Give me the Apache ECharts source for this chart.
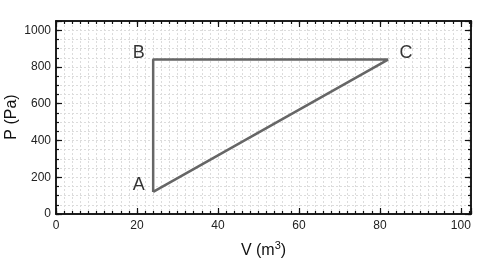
<!DOCTYPE html>
<html><head><meta charset="utf-8">
<script src="https://cdn.jsdelivr.net/npm/echarts@6/dist/echarts.min.js"></script>
<style>html,body{margin:0;padding:0;background:#fff}#c{width:494px;height:260px}</style>
</head><body><div id="c"></div>
<script>
const pointNames = ['A', 'B', 'C'];
const volumes = [24, 24, 82];
const pressures = [120, 840, 840];
const xTicks = [0, 20, 40, 60, 80, 100];
const yTicks = [0, 200, 400, 600, 800, 1000];
const yTitle = 'P (Pa)';

const FONT = 'Liberation Sans, Arial, Helvetica, sans-serif';
const xMin = 0, xMax = 102.5, yMin = 0, yMax = 1050;

const labelPos = ['left', 'left', 'right'];
const labelDist = [8, 8, 11];
const cycle = volumes.map((v, i) => [v, pressures[i]]);
cycle.push([volumes[0], pressures[0]]);
const labelPts = volumes.map((v, i) => ({
  value: [v, pressures[i]],
  label: { show: true, formatter: pointNames[i], position: labelPos[i], distance: labelDist[i], offset: [0, -7],
           fontSize: 18, color: '#000', fontFamily: FONT }
}));

const line = { show: true, onZero: false, lineStyle: { color: '#111', width: 1.5 } };
const grid = { show: true, lineStyle: { color: '#dcdcdc', type: [2, 2], width: 1 } };

function xAx(pos, major, labels) {
  return {
    type: 'value', position: pos, min: xMin, max: xMax, interval: major ? 20 : 2,
    axisLine: line,
    axisTick: { show: true, inside: true, length: major ? 6 : 3, lineStyle: { color: '#111', width: 1.2 } },
    splitLine: major ? { show: false } : grid,
    axisLabel: labels ? { show: true, color: '#222', fontSize: 12, fontFamily: FONT, margin: 6,
      formatter: v => xTicks.includes(v) ? String(v) : '' } : { show: false },
    name: labels ? '{n|V (m}{s|3}{n|)}' : '', nameLocation: 'middle', nameGap: 26,
    nameTextStyle: { rich: { n: { fontSize: 16, color: '#111', fontFamily: FONT },
      s: { fontSize: 11, color: '#111', fontFamily: FONT, verticalAlign: 'top', padding: [0, 0, 10, 0] } } }
  };
}
function yAx(pos, major, labels) {
  return {
    type: 'value', position: pos, min: yMin, max: yMax, interval: major ? 200 : 50,
    axisLine: line,
    axisTick: { show: true, inside: true, length: major ? 6 : 3, lineStyle: { color: '#111', width: 1.2 } },
    splitLine: major ? { show: false } : grid,
    axisLabel: labels ? { show: true, color: '#222', fontSize: 12, fontFamily: FONT, margin: 5,
      formatter: v => yTicks.includes(v) ? String(v) : '' } : { show: false }
  };
}

const chart = echarts.init(document.getElementById('c'), null, { renderer: 'canvas' });
chart.setOption({
  animation: false,
  grid: { left: 56, right: 23, top: 21, bottom: 46, containLabel: false, outerBoundsMode: 'none' },
  xAxis: [xAx('bottom', false, false), xAx('bottom', true, true), xAx('top', false, false), xAx('top', true, false)],
  yAxis: [yAx('left', false, false), yAx('left', true, true), yAx('right', false, false), yAx('right', true, false)],
  graphic: [{
    type: 'text', x: 12, y: 117, rotation: Math.PI / 2,
    style: { text: yTitle, fontSize: 16, fill: '#111', fontFamily: FONT, align: 'center', verticalAlign: 'middle' }
  }],
  series: [{
    type: 'line', xAxisIndex: 0, yAxisIndex: 0, data: cycle, symbol: 'none',
    lineStyle: { color: '#666', width: 2.5 }, z: 5
  }, {
    type: 'scatter', xAxisIndex: 0, yAxisIndex: 0, data: labelPts, symbolSize: 1,
    itemStyle: { color: 'rgba(0,0,0,0)' }, z: 6
  }]
});
</script></body></html>
